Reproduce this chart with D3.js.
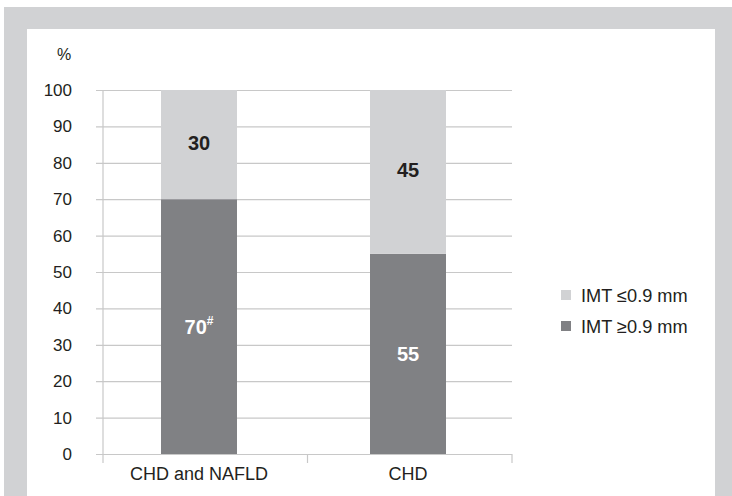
<!DOCTYPE html>
<html>
<head>
<meta charset="utf-8">
<script src="https://cdn.jsdelivr.net/npm/d3@7"></script>
<style>
  body { margin: 0; background: #fff; }
  text { font-family: "Liberation Sans", Arial, sans-serif; fill: #231f20; }
</style>
</head>
<body>
<svg id="chart" width="732" height="496"></svg>
<script>
const categories = ["CHD and NAFLD", "CHD"];
const imtHigh = [70, 55]; // IMT >=0.9 mm (dark, bottom)
const imtLow = [30, 45];  // IMT <=0.9 mm (light, top)
const highMarks = ["#", ""];
const yTicks = [0, 10, 20, 30, 40, 50, 60, 70, 80, 90, 100];
const seriesNames = ["IMT \u22640.9 mm", "IMT \u22650.9 mm"];

const svg = d3.select("#chart");
const light = "#d1d2d4", dark = "#808184", grid = "#c8c8c8";

// frame
svg.append("rect").attr("x", 4).attr("y", 7).attr("width", 728).attr("height", 489).attr("fill", light);
svg.append("rect").attr("x", 27).attr("y", 29).attr("width", 688).attr("height", 467).attr("fill", "#fff");

// band scale for category boundaries, point scale for bar centres
const x = d3.scaleBand().domain(categories).range([103, 512]);
const xc = d3.scalePoint().domain(categories).range([199, 408]);
const y = d3.scaleLinear().domain([0, 100]).range([454, 90]);
const barW = 76;

// y axis with gridlines
const yAxis = svg.append("g")
  .attr("transform", "translate(96,0)")
  .call(d3.axisLeft(y).tickValues(yTicks).tickSizeInner(-416).tickSizeOuter(0).tickPadding(24));
yAxis.select(".domain").remove();
yAxis.selectAll("line").attr("stroke", grid).attr("stroke-width", 1.2);
yAxis.selectAll("text").attr("font-size", 17).attr("fill", "#231f20")
  .attr("font-family", "Liberation Sans, Arial, sans-serif");

svg.append("text").attr("x", 64).attr("y", y(100) - 36).attr("dy", "0.35em")
  .attr("text-anchor", "middle").attr("font-size", 16).text("%");

// y axis line
svg.append("line").attr("x1", 103).attr("x2", 103).attr("y1", y(100)).attr("y2", y(0) + 9)
  .attr("stroke", grid).attr("stroke-width", 1.2);

// category boundary ticks
const bounds = categories.map(c => x(c)).concat([x.range()[1]]);
svg.append("g").selectAll("line").data(bounds.slice(1)).join("line")
  .attr("x1", d => d).attr("x2", d => d).attr("y1", y(0)).attr("y2", y(0) + 9)
  .attr("stroke", grid).attr("stroke-width", 1.2);

// bars
const g = svg.append("g");
g.selectAll(".high").data(categories).join("rect")
  .attr("x", c => xc(c) - barW / 2).attr("width", barW)
  .attr("y", (c, i) => y(imtHigh[i])).attr("height", (c, i) => y(0) - y(imtHigh[i]))
  .attr("fill", dark);
g.selectAll(".low").data(categories).join("rect")
  .attr("x", c => xc(c) - barW / 2).attr("width", barW)
  .attr("y", (c, i) => y(imtHigh[i] + imtLow[i]))
  .attr("height", (c, i) => y(imtHigh[i]) - y(imtHigh[i] + imtLow[i]))
  .attr("fill", light);

// value labels
g.selectAll(".lowLbl").data(categories).join("text")
  .attr("x", c => xc(c)).attr("y", (c, i) => y(imtHigh[i] + imtLow[i] / 2) - 2)
  .attr("dy", "0.36em").attr("text-anchor", "middle")
  .attr("font-size", 20).attr("font-weight", "bold").text((c, i) => imtLow[i]);
const hl = g.selectAll(".highLbl").data(categories).join("text")
  .attr("x", c => xc(c)).attr("y", (c, i) => y(imtHigh[i] / 2))
  .attr("dy", "0.36em").attr("text-anchor", "middle")
  .attr("font-size", 20).attr("font-weight", "bold").style("fill", "#fff");
hl.append("tspan").text((c, i) => imtHigh[i]);
hl.append("tspan").attr("font-size", 12).attr("dy", "-0.7em").style("fill", "#fff").text((c, i) => highMarks[i]);

// category labels
svg.append("g").selectAll("text").data(categories).join("text")
  .attr("x", c => xc(c)).attr("y", 480).attr("text-anchor", "middle")
  .attr("font-size", 18).text(c => c);

// legend
const leg = svg.append("g").selectAll("g").data(seriesNames).join("g")
  .attr("transform", (d, i) => `translate(561,${295 + i * 31})`);
leg.append("rect").attr("x", 0).attr("y", -5).attr("width", 10).attr("height", 10)
  .attr("fill", (d, i) => i === 0 ? light : dark);
leg.append("text").attr("x", 20).attr("dy", "0.36em").attr("font-size", 18.2).text(d => d);
</script>
</body>
</html>
